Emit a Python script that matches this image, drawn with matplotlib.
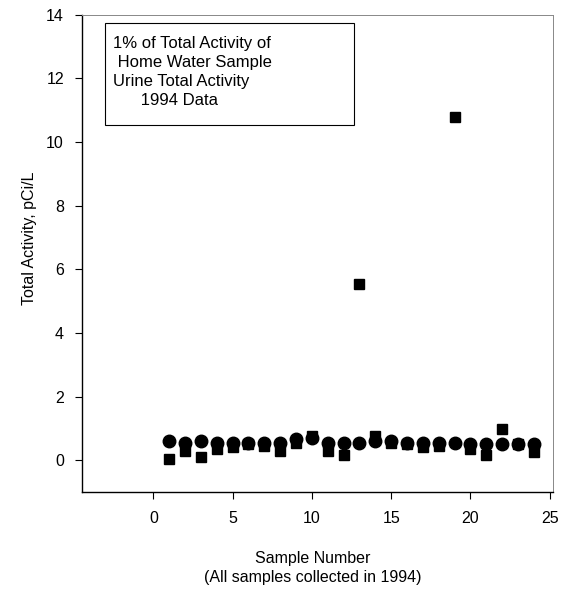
import numpy as np
import matplotlib
matplotlib.use("Agg")
import matplotlib.pyplot as plt
from matplotlib.patches import Rectangle

plt.rcParams["font.family"] = ["Liberation Sans", "DejaVu Sans"]

samples = list(range(1, 25))
# 1% of total activity of home water sample (circles)
home_water = [0.60, 0.55, 0.60, 0.55, 0.55, 0.55, 0.55, 0.55, 0.65, 0.70,
              0.55, 0.55, 0.55, 0.60, 0.60, 0.55, 0.55, 0.55, 0.55, 0.50,
              0.50, 0.50, 0.50, 0.50]
# urine total activity (squares)
urine = [0.03, 0.30, 0.10, 0.35, 0.40, 0.50, 0.45, 0.30, 0.55, 0.75,
         0.30, 0.15, 5.55, 0.75, 0.55, 0.50, 0.40, 0.45, 10.80, 0.35,
         0.15, 0.97, 0.50, 0.25]

legend_lines = ["1% of Total Activity of", " Home Water Sample",
                "Urine Total Activity", "      1994 Data"]

fig = plt.figure(figsize=(5.70, 5.92), dpi=100)
ax = fig.add_axes([0.1439, 0.169, 0.826, 0.806])

ax.plot(samples, home_water, "o", color="black", ms=9, ls="none")
ax.plot(samples, urine, "s", color="black", ms=7.5, ls="none")

ax.set_xlim(-4.5, 25.2)
ax.set_ylim(-1, 14)
ax.set_xticks([0, 5, 10, 15, 20, 25])
ax.set_yticks(np.arange(0, 15, 2))
ax.tick_params(direction="out", length=5, width=0.8, labelsize=11.5, pad=8)
ax.tick_params(axis="x", pad=9)

for side in ["top", "right"]:
    ax.spines[side].set_color("#888888")
    ax.spines[side].set_linewidth(0.7)
for side in ["left", "bottom"]:
    ax.spines[side].set_linewidth(1.0)

ax.set_xlabel("Sample Number\n(All samples collected in 1994)", fontsize=11.5,
              linespacing=1.3)
ax.xaxis.set_label_coords(0.49, -0.124, transform=ax.transAxes)
ax.xaxis.label.set_va("top")
ax.set_ylabel("Total Activity, pCi/L", fontsize=11.5)
ax.yaxis.set_label_coords(-0.096, 0.532)

# legend box (markers lost in the original scan; text only)
fig.add_artist(Rectangle((0.184, 0.789), 0.437, 0.172, transform=fig.transFigure,
                         fc="white", ec="black", lw=0.8))
fig.text(0.198, 0.939, "\n".join(legend_lines), fontsize=12, va="top",
         ha="left", linespacing=1.33)

fig.savefig("out.png", dpi=100)
